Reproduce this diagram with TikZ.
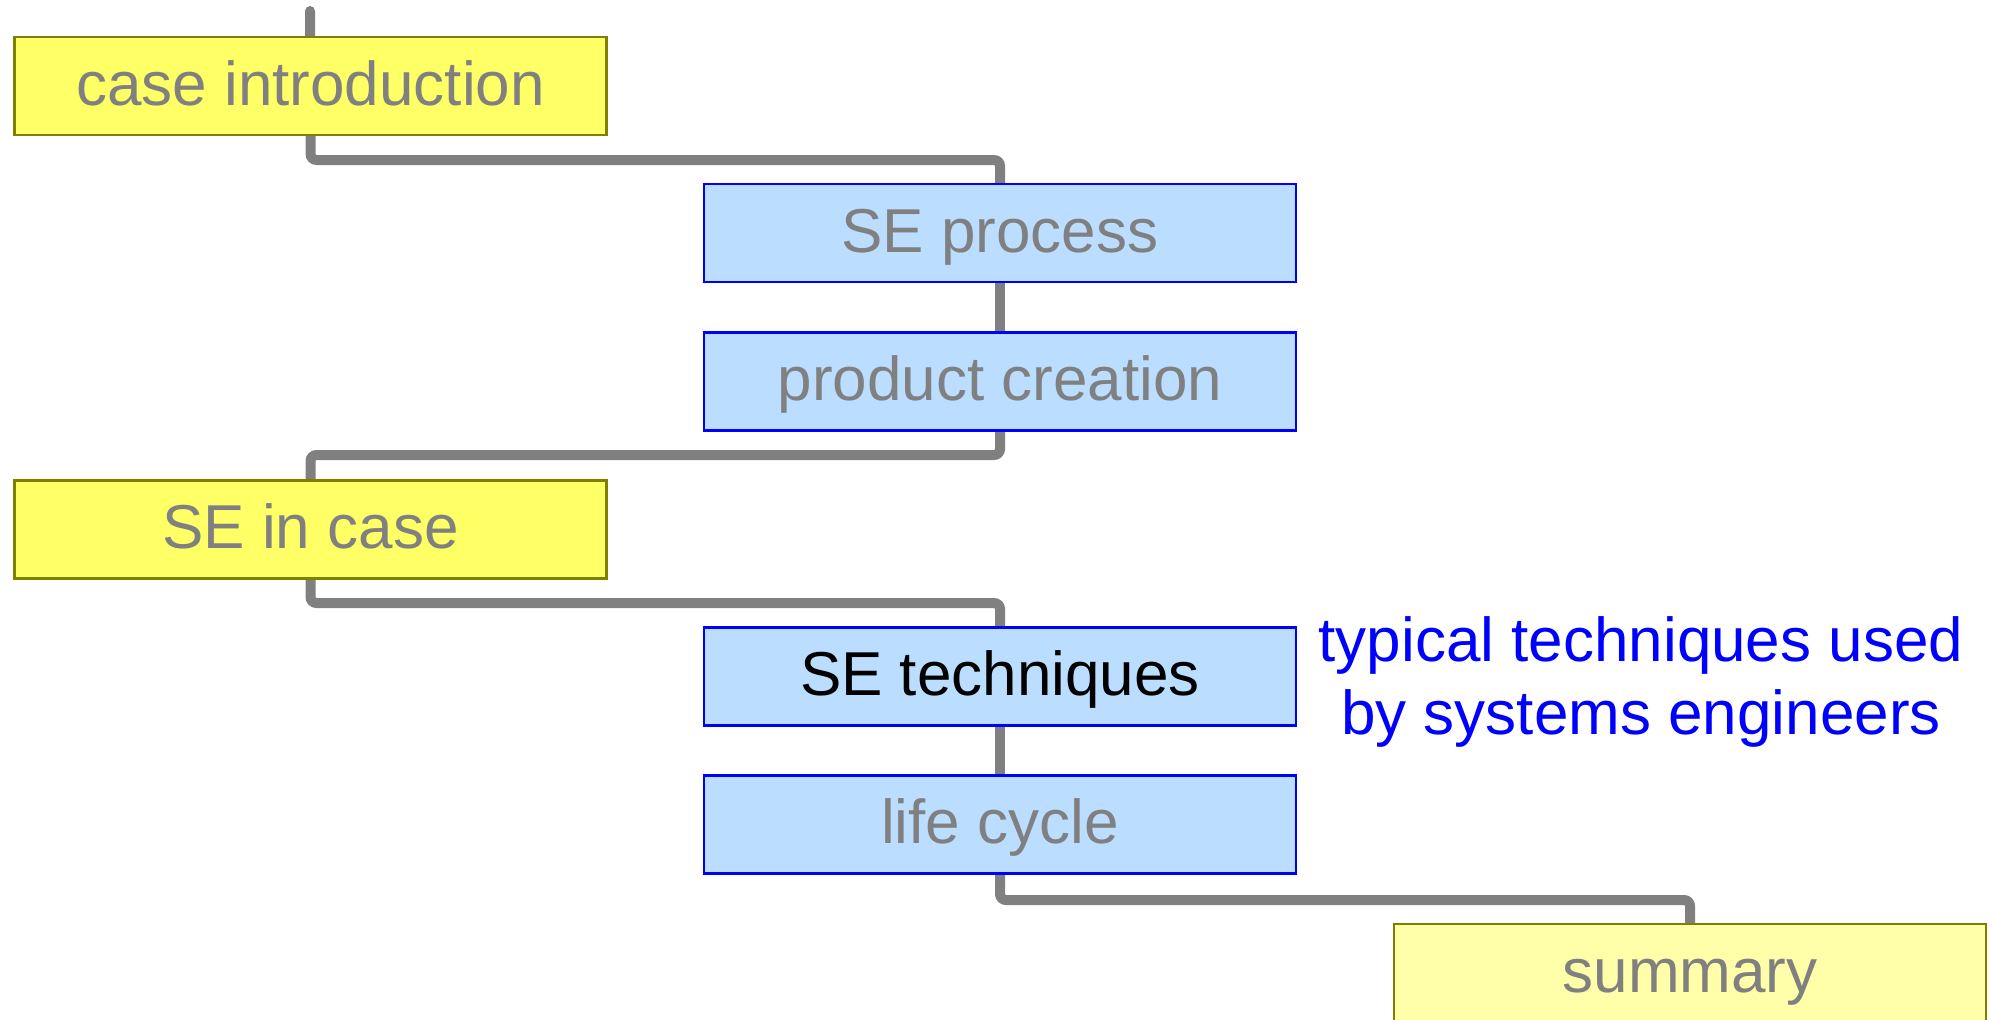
\documentclass[tikz,border=0pt]{standalone}
\usepackage{fontspec}
\setmainfont{Liberation Sans}
\definecolor{ylw}{HTML}{FFFF66}
\definecolor{lylw}{HTML}{FFFFAA}
\definecolor{olv}{HTML}{808000}
\definecolor{lblue}{HTML}{BBDDFF}
\definecolor{bblue}{HTML}{0000FF}
\definecolor{txtgray}{HTML}{808080}
\begin{document}
\begin{tikzpicture}[x=1pt,y=-1pt,
  box/.style={minimum width=592pt,minimum height=98pt,inner sep=0pt,line width=2.2pt,
    text height=45pt,text depth=7pt,
    font=\fontsize{62}{72}\selectfont,text=txtgray},
  ybox/.style={box,draw=olv,fill=ylw},
  sbox/.style={box,draw=olv,fill=lylw},
  bbox/.style={box,draw=bblue,fill=lblue},
  conn/.style={draw=txtgray,line width=10pt,rounded corners=6pt,line cap=round}]
\useasboundingbox (0,0) rectangle (1995,1020);
\coordinate (start) at (310,11);
% connectors first
\node[ybox,draw=none,fill=none] (ci0) at (310.5,86) {};
\node[bbox,draw=none,fill=none] (sp0) at (1000,233) {};
\node[bbox,draw=none,fill=none] (pc0) at (1000,381.5) {};
\node[ybox,draw=none,fill=none] (sc0) at (310.5,529.5) {};
\node[bbox,draw=none,fill=none] (st0) at (1000,676.5) {};
\node[bbox,draw=none,fill=none] (lc0) at (1000,824.5) {};
\node[sbox,draw=none,fill=none] (su0) at (1690,973) {};
\draw[conn] (start) -- (ci0.center);
\draw[conn] (ci0.center) |- (1000,160) -- (sp0.center);
\draw[conn] (sp0.center) -- (pc0.center);
\draw[conn] (pc0.center) |- (310.5,455) -- (sc0.center);
\draw[conn] (sc0.center) |- (1000,603) -- (st0.center);
\draw[conn] (st0.center) -- (lc0.center);
\draw[conn] (lc0.center) |- (1690,900) -- (su0.center);
% boxes
\node[ybox] (ci) at (310.5,86) {case introduction};
\node[bbox] (sp) at (1000,233) {SE process};
\node[bbox] (pc) at (1000,381.5) {product creation};
\node[ybox] (sc) at (310.5,529.5) {SE in case};
\node[bbox,text=black] (st) at (1000,676.5) {SE techniques};
\node[bbox] (lc) at (1000,824.5) {life cycle};
\node[sbox] (su) at (1690,973) {summary};
\node[align=center,text=bblue,font=\fontsize{62}{73}\selectfont,inner sep=0pt] (note) at (1641,682) {typical techniques used\\by systems engineers};
\end{tikzpicture}
\end{document}
